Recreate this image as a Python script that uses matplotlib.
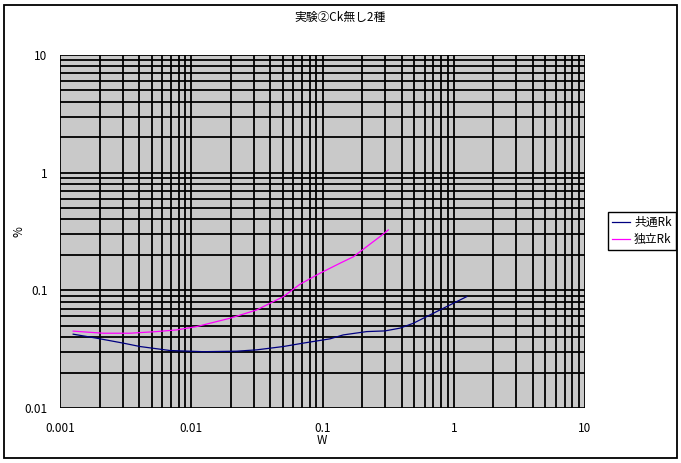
import matplotlib
matplotlib.use("Agg")
import matplotlib.pyplot as plt
from matplotlib.patches import Rectangle
from matplotlib.ticker import LogLocator, NullFormatter, FixedLocator, FixedFormatter

plt.rcParams['font.family'] = ['Noto Sans CJK JP', 'DejaVu Sans']

title = "実験②Ck無し2種"
x_label = "W"
y_label = "%"

series_names = ["共通Rk", "独立Rk"]

x_common = [0.00126, 0.0019, 0.00303, 0.00407, 0.00689, 0.01236, 0.0222, 0.0315,
            0.0503, 0.0714, 0.114, 0.144, 0.217, 0.299, 0.389, 0.492, 0.659, 0.884, 1.255]
y_common = [0.0424, 0.0392, 0.0356, 0.0333, 0.0308, 0.0301, 0.0304, 0.0312,
            0.0333, 0.0356, 0.0387, 0.0418, 0.0446, 0.0452, 0.0477, 0.0525, 0.0618, 0.0728, 0.0884]

x_indep = [0.00126, 0.00214, 0.00341, 0.00545, 0.00775, 0.011, 0.0197, 0.0315,
           0.0503, 0.0674, 0.0957, 0.136, 0.172, 0.217, 0.274, 0.317]
y_indep = [0.0450, 0.0432, 0.0432, 0.0446, 0.0461, 0.0492, 0.0579, 0.0681,
           0.0884, 0.1127, 0.1397, 0.170, 0.193, 0.235, 0.286, 0.326]

x_ticks = [0.001, 0.01, 0.1, 1, 10]
x_tick_labels = ["0.001", "0.01", "0.1", "1", "10"]
y_ticks = [0.01, 0.1, 1, 10]
y_tick_labels = ["0.01", "0.1", "1", "10"]

W, H = 681, 463
fig = plt.figure(figsize=(W / 100, H / 100), dpi=100)
fig.patch.set_facecolor('white')

# outer border
fig.patches.append(Rectangle((4 / W, 5 / H), 673 / W, 453 / H, transform=fig.transFigure,
                             fill=False, edgecolor='black', linewidth=1.3))

ax = fig.add_axes([60 / W, 1 - 408 / H, 525 / W, 353 / H])
ax.set_facecolor('#c9c9c9')
ax.set_xscale('log')
ax.set_yscale('log')
ax.set_xlim(0.001, 10)
ax.set_ylim(0.01, 10)

ax.xaxis.set_major_locator(FixedLocator(x_ticks))
ax.xaxis.set_major_formatter(FixedFormatter(x_tick_labels))
ax.yaxis.set_major_locator(FixedLocator(y_ticks))
ax.yaxis.set_major_formatter(FixedFormatter(y_tick_labels))
ax.xaxis.set_minor_locator(LogLocator(base=10, subs=range(2, 10), numticks=20))
ax.yaxis.set_minor_locator(LogLocator(base=10, subs=range(2, 10), numticks=20))
ax.xaxis.set_minor_formatter(NullFormatter())
ax.yaxis.set_minor_formatter(NullFormatter())

ax.grid(True, which='both', color='black', linewidth=1.3)
ax.set_axisbelow(True)
ax.tick_params(which='both', length=0)
ax.tick_params(axis='x', pad=10, labelsize=8.5)
ax.tick_params(axis='y', pad=9, labelsize=8.5)
for s in ax.spines.values():
    s.set_visible(False)

ax.plot(x_common, y_common, color='#000080', linewidth=0.9, label=series_names[0], zorder=3)
ax.plot(x_indep, y_indep, color='#ff00ff', linewidth=0.9, label=series_names[1], zorder=3)

fig.text(340 / W, 1 - 18 / H, title, ha='center', va='center', fontsize=8.5)
fig.text(322 / W, 1 - 440 / H, x_label, ha='center', va='center', fontsize=8.5)
fig.text(19 / W, 1 - 232 / H, y_label, ha='center', va='center', fontsize=8.5, rotation=90)

leg = fig.legend(loc='center left', bbox_to_anchor=(608 / W, 1 - 231 / H), fontsize=8.5,
                 frameon=True, fancybox=False, edgecolor='black', framealpha=1,
                 handlelength=1.5, handletextpad=0.35, borderpad=0.35, labelspacing=0.35,
                 borderaxespad=0)
leg.get_frame().set_linewidth(1.0)

fig.savefig("out.png", dpi=100)
